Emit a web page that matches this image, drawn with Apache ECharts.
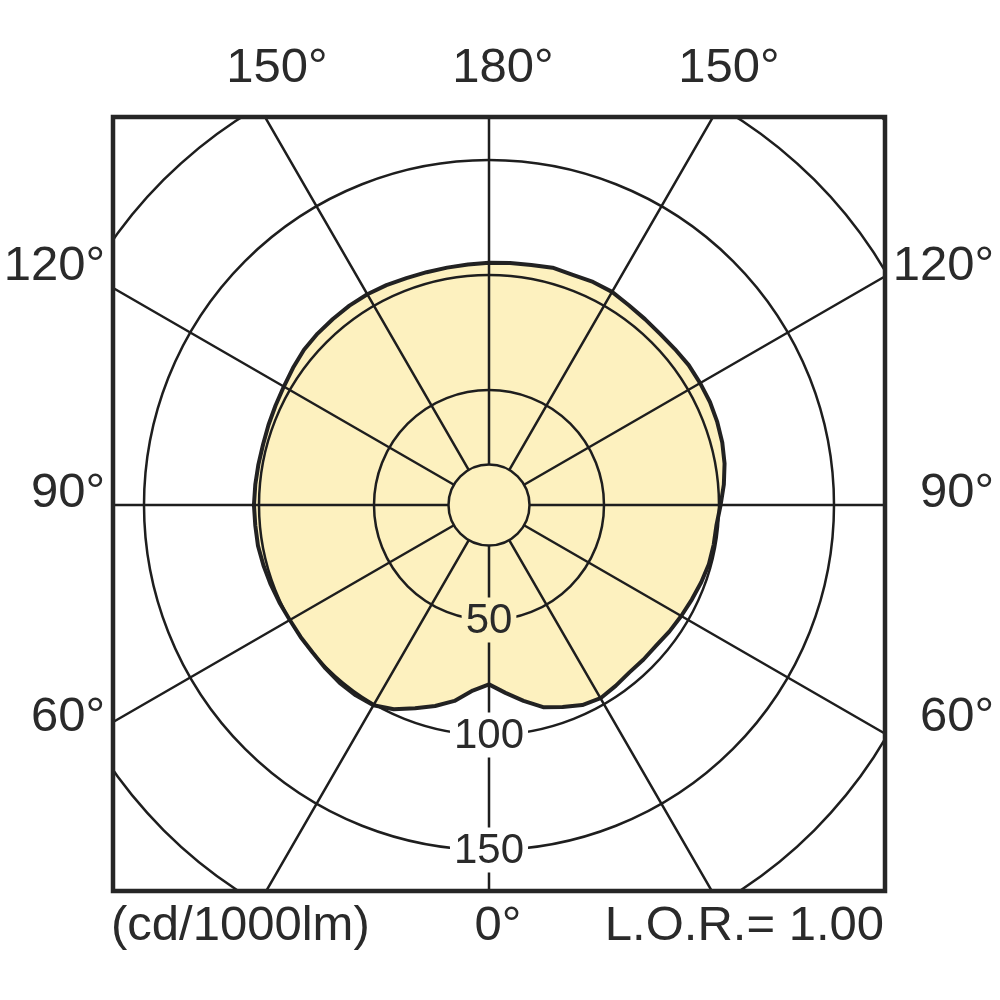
<!DOCTYPE html>
<html><head><meta charset="utf-8">
<script src="https://cdn.jsdelivr.net/npm/echarts@6/dist/echarts.min.js"></script>
<style>html,body{margin:0;padding:0;background:#fff}#c{width:1000px;height:1000px}</style>
</head><body><div id="c"></div>
<script>
// ---- data ----
const gammaDeg = [0,5,10,15,20,25,30,35,40,45,50,55,60,65,70,75,80,85,90,95,100,105,110,115,120,125,130,135,140,145,150,155,160,165,170,175,180];
const intensityLeft  = [78,81,86.5,90.5,94,98,100.5,101,101,100.5,100,100,100,100.5,101,101.5,102,102,102.2,102,101.8,101.7,102,102.4,103,104,105,105.4,105.6,105.8,105.8,105.5,105,104.8,104.8,105,105.3];
const intensityRight = [78,82,86.5,91,93.5,96,97,96,95,95,95,95.8,96.5,97.3,98.2,99,99.2,99.3,100.7,102.5,104,105,105.6,106,106,106,105.5,105.2,105.5,106,107,107,106.5,106.8,106,105.6,105.3];
const radiusTickLabels = [50, 100, 150];
const angleTickLabels = [0, 60, 90, 120, 150, 180];
const unitText = '(cd/1000lm)';
const lorText = 'L.O.R.= 1.00';

// ---- layout ----
const PX_PER_CD = 2.3;
const R_MAX = 240;
const CX = 489, CY = 505;
const FRAME = {x: 113, y: 117, w: 772, h: 774};
const FILL = '#fdf1bf';
const INK = '#1e1e1e';
const FONT = 'Liberation Sans, Arial, sans-serif';

// curve data: left half uses angle = gamma, right half angle = 360 - gamma
const curve = [];
gammaDeg.forEach((g, i) => curve.push([intensityLeft[i], g]));
for (let i = gammaDeg.length - 1; i >= 0; i--) curve.push([intensityRight[i], 360 - gammaDeg[i]]);

function deg(v){ return v + '°'; }
const lab = {};
angleTickLabels.forEach(v => lab[v] = deg(v));

const textStyle = (align) => ({fill: '#2a2a2a', font: '49px ' + FONT, align: align, verticalAlign: 'middle', textAlign: align, textVerticalAlign: 'middle'});
function txt(s, x, y, align){ return {type: 'text', x: x, y: y, z: 102, silent: true, style: Object.assign({text: s}, textStyle(align))}; }

const chart = echarts.init(document.getElementById('c'), null, {renderer: 'canvas'});
chart.setOption({
  animation: false,
  backgroundColor: '#fff',
  polar: {center: [CX, CY], radius: R_MAX * PX_PER_CD},
  angleAxis: {
    type: 'value', min: 0, max: 360, interval: 30, startAngle: 270, clockwise: true, z: 3,
    axisLine: {show: false}, axisTick: {show: false}, axisLabel: {show: false},
    splitLine: {show: true, lineStyle: {color: INK, width: 2.5}}
  },
  radiusAxis: {
    type: 'value', min: 0, max: R_MAX, interval: 50, z: 3,
    axisLine: {show: false}, axisTick: {show: false},
    splitLine: {show: true, lineStyle: {color: INK, width: 2.5}},
    axisLabel: {
      show: true, margin: 0, align: 'center', verticalAlign: 'middle',
      formatter: v => {
        if (radiusTickLabels.indexOf(v) < 0) return '';
        return (v === radiusTickLabels[0] ? '{y|' : '{w|') + v + '}';
      },
      rich: {
        y: {fontSize: 42, fontFamily: FONT, color: '#2a2a2a', backgroundColor: FILL, padding: [3, 4, 0, 4]},
        w: {fontSize: 42, fontFamily: FONT, color: '#2a2a2a', backgroundColor: '#fff', padding: [3, 4, 0, 4]}
      }
    }
  },
  series: [
    {
      type: 'line', coordinateSystem: 'polar', data: curve, showSymbol: false, z: 2,
      lineStyle: {color: '#222', width: 4}, areaStyle: {color: FILL, opacity: 1}, smooth: false
    },
    {
      type: 'scatter', coordinateSystem: 'polar', data: [[0, 0]], symbol: 'circle', symbolSize: 81, z: 4, silent: true,
      itemStyle: {color: FILL, borderColor: INK, borderWidth: 2.5, opacity: 1}
    }
  ],
  graphic: {elements: [
    {type: 'rect', z: 100, silent: true, shape: {x: 0, y: 0, width: 1000, height: FRAME.y}, style: {fill: '#fff'}},
    {type: 'rect', z: 100, silent: true, shape: {x: 0, y: FRAME.y + FRAME.h, width: 1000, height: 1000}, style: {fill: '#fff'}},
    {type: 'rect', z: 100, silent: true, shape: {x: 0, y: 0, width: FRAME.x, height: 1000}, style: {fill: '#fff'}},
    {type: 'rect', z: 100, silent: true, shape: {x: FRAME.x + FRAME.w, y: 0, width: 200, height: 1000}, style: {fill: '#fff'}},
    {type: 'rect', z: 101, silent: true, shape: {x: FRAME.x, y: FRAME.y, width: FRAME.w, height: FRAME.h}, style: {fill: null, stroke: '#262626', lineWidth: 4.5}},
    txt(lab[150], 277, 68, 'center'),
    txt(lab[180], 503, 68, 'center'),
    txt(lab[150], 729, 68, 'center'),
    txt(lab[120], 105, 266, 'right'),
    txt(lab[90], 105, 493, 'right'),
    txt(lab[60], 105, 717, 'right'),
    txt(lab[120], 994, 266, 'right'),
    txt(lab[90], 994, 493, 'right'),
    txt(lab[60], 994, 717, 'right'),
    txt(lab[0], 498, 926, 'center'),
    txt(unitText, 111, 926, 'left'),
    txt(lorText, 884, 926, 'right')
  ]}
});
</script>
</body></html>
